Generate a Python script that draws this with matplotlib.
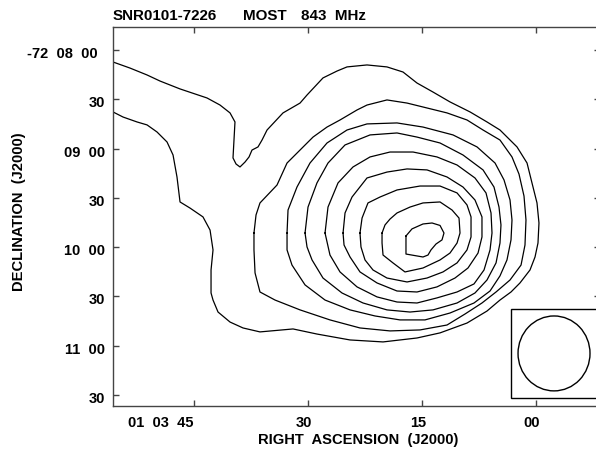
import matplotlib
matplotlib.use('Agg')
import matplotlib.pyplot as plt
from matplotlib.patches import Ellipse, Rectangle
import matplotlib.transforms as mtransforms

plt.rcParams['font.family'] = ['Liberation Sans', 'DejaVu Sans']
plt.rcParams['font.weight'] = 'bold'

# ---- data: contour paths, RA in seconds of 01h03m, Dec in arcsec south of -72 00 00
c1_ra = [55.66, 53.42, 51.18, 49.47, 46.84, 43.29, 41.58, 40.26, 39.61, 39.74, 39.87, 39.47, 38.95, 38.29,
         37.76, 37.37, 36.58, 36.05, 35.39, 33.29, 31.05, 30.13, 28.03, 26.18, 24.87, 22.24, 19.61, 17.50,
         15.66, 13.55, 11.32, 8.68, 6.45, 4.74, 2.50, 1.18, 0.53, -0.13, -0.39, -0.26, 0.13, 0.79, 2.11,
         3.29, 4.74, 6.45, 9.08, 12.63, 15.66, 20.13, 24.47, 28.82, 31.97, 36.32, 38.55, 40.26, 41.84,
         42.50, 42.76, 42.76, 42.50, 42.89, 43.82, 45.53, 46.84, 47.24, 47.76, 48.55, 49.87, 51.18, 52.50,
         54.34, 55.66]
c1_dec = [487.3, 491.0, 495.2, 498.9, 503.7, 509.2, 513.5, 518.3, 523.8, 534.8, 545.7, 549.4, 551.2, 548.2,
          545.1, 540.9, 539.0, 534.8, 528.7, 518.3, 512.3, 507.4, 497.0, 492.8, 490.3, 489.1, 490.3, 493.4,
          500.1, 505.6, 511.6, 517.7, 523.8, 528.7, 539.0, 548.8, 560.9, 573.1, 585.3, 597.5, 606.0, 613.9,
          621.8, 627.3, 632.2, 638.9, 646.2, 652.2, 655.3, 657.7, 656.5, 652.9, 649.8, 651.6, 649.2, 645.6,
          639.5, 632.2, 627.9, 613.9, 601.7, 589.6, 581.6, 576.2, 572.5, 557.3, 543.9, 536.0, 529.9, 525.6,
          523.8, 520.8, 517.7]

c2_ra = [37.11, 36.84, 36.32, 34.08, 32.76, 31.05, 29.34, 27.50, 25.79, 23.55, 22.24, 19.61, 16.97, 14.34,
         11.71, 9.08, 6.97, 4.74, 3.16, 2.24, 1.58, 1.32, 1.45, 1.97, 3.42, 5.26, 7.11, 9.34, 11.71, 15.26,
         19.21, 23.16, 27.11, 31.05, 34.34, 36.32, 36.97, 37.11]
c2_dec = [591.4, 580.4, 573.1, 562.2, 548.8, 540.9, 533.0, 526.9, 522.6, 516.5, 513.5, 510.4, 512.3, 515.3,
          518.3, 522.6, 528.7, 534.8, 545.1, 555.5, 568.9, 583.5, 598.7, 610.9, 620.0, 627.3, 634.0, 640.7,
          647.4, 650.4, 651.0, 649.2, 644.3, 638.2, 632.2, 627.3, 615.7, 601.7]

c3_ra = [32.76, 32.63, 31.45, 29.74, 27.50, 24.87, 22.24, 18.29, 14.87, 10.92, 7.76, 5.39, 4.21, 3.42, 3.16,
         3.29, 3.82, 4.74, 6.05, 8.16, 11.32, 14.61, 17.89, 21.18, 24.47, 27.76, 30.39, 32.11, 32.76]
c3_dec = [591.4, 577.4, 563.4, 548.8, 536.6, 528.7, 525.0, 524.4, 526.9, 531.7, 539.0, 548.8, 559.1, 571.3,
          583.5, 595.6, 607.8, 617.5, 626.7, 634.0, 640.1, 644.3, 644.3, 641.9, 638.2, 632.2, 623.0, 610.9,
          601.7]

c4_ra = [30.39, 30.00, 28.82, 27.37, 25.13, 21.84, 18.29, 15.66, 12.63, 9.61, 6.97, 5.53, 4.87, 4.61, 4.74,
         5.26, 6.45, 8.03, 10.39, 13.55, 16.58, 19.61, 22.76, 25.53, 28.03, 29.47, 30.13]
c4_dec = [591.4, 575.6, 560.9, 548.8, 537.8, 531.7, 530.5, 533.0, 536.6, 543.9, 553.0, 563.4, 575.6, 586.5,
          597.5, 609.6, 620.0, 627.9, 634.0, 638.2, 639.5, 638.2, 634.0, 627.9, 618.8, 607.8, 599.9]

c5_ra = [27.76, 27.37, 26.05, 24.08, 21.84, 19.21, 16.18, 13.03, 10.39, 8.03, 6.58, 5.92, 5.79, 6.05, 6.84,
         8.16, 10.39, 13.03, 15.66, 18.29, 20.92, 23.55, 25.79, 27.11]
c5_dec = [591.4, 575.6, 560.9, 551.2, 545.1, 542.1, 542.1, 545.1, 550.0, 557.9, 567.0, 579.2, 591.4, 601.7,
          613.9, 622.4, 627.3, 630.9, 634.0, 633.4, 630.3, 624.2, 615.1, 604.8]

c6_ra = [25.39, 25.13, 24.21, 22.24, 19.61, 16.97, 14.34, 11.71, 9.61, 8.03, 7.11, 7.11, 7.63, 8.95, 10.66,
         13.03, 15.66, 18.29, 20.92, 23.16, 24.47, 25.26]
c6_dec = [591.4, 579.2, 569.5, 557.9, 554.3, 552.4, 553.0, 557.3, 563.4, 571.3, 581.6, 593.8, 603.6, 612.7,
          618.8, 624.2, 627.3, 626.7, 621.8, 615.1, 606.0, 598.7]

c7_ra = [23.16, 22.89, 22.11, 20.53, 18.29, 15.26, 12.63, 10.39, 9.08, 8.55, 8.55, 9.08, 10.39, 12.24, 14.34,
         16.97, 19.61, 21.45, 22.50, 23.03]
c7_dec = [591.4, 582.3, 573.1, 569.5, 565.2, 562.8, 562.8, 567.0, 574.3, 581.6, 593.8, 601.7, 609.6, 615.1,
          618.8, 621.2, 618.8, 613.9, 607.8, 599.9]

c8_ra = [20.26, 19.87, 19.21, 18.29, 16.58, 14.87, 12.63, 11.05, 10.13, 10.00, 10.39, 11.32, 12.63, 14.87,
         17.24, 18.82, 20.13, 20.26]
c8_dec = [591.4, 586.5, 582.9, 579.2, 575.6, 573.1, 572.5, 577.4, 582.3, 591.4, 597.5, 603.6, 607.8, 612.7,
          615.1, 609.6, 604.8, 597.5]

c9_ra = [17.11, 16.32, 14.87, 13.68, 12.63, 12.11, 12.37, 13.16, 13.82, 14.21, 14.87, 17.11]
c9_dec = [593.2, 588.9, 585.9, 585.3, 586.8, 591.4, 595.6, 598.1, 601.7, 604.8, 606.0, 604.2]

closed_contours = [(c2_ra, c2_dec), (c3_ra, c3_dec), (c4_ra, c4_dec), (c5_ra, c5_dec),
                   (c6_ra, c6_dec), (c7_ra, c7_dec), (c8_ra, c8_dec), (c9_ra, c9_dec)]

x_ticks = [45, 30, 15, 0]
x_tick_labels = ['01  03  45', '30', '15', '00']
y_ticks = [480, 510, 540, 570, 600, 630, 660, 690]
y_tick_labels = ['-72  08  00', '30', '09  00', '30', '10  00', '30', '11  00', '30']

beam_ra, beam_dec = -2.37, 664.7       # beam centre
beam_w_s, beam_h_as = 9.47, 45.6       # beam size (RA seconds, Dec arcsec)
beam_box = (3.29, 637.6, 691.8)        # box left RA, top dec, bottom dec

W, H = 596, 453
fig = plt.figure(figsize=(W / 100, H / 100), dpi=100)
ax = fig.add_axes([113 / W, 47 / H, 487 / W, 379 / H])

ax.plot(c1_ra, c1_dec, color='black', lw=0.9)
for ra, dec in closed_contours:
    ax.plot(list(ra) + [ra[0]], list(dec) + [dec[0]], color='black', lw=0.9)

# beam inset
ax.add_patch(Rectangle((-12, beam_box[1]), beam_box[0] + 12, beam_box[2] - beam_box[1],
                       facecolor='white', edgecolor='black', lw=1.0, zorder=3))
ax.add_patch(Ellipse((beam_ra, beam_dec), beam_w_s, beam_h_as, fill=False,
                     edgecolor='black', lw=1.0, zorder=4))

ax.set_xlim(55.66, -8.42)
ax.set_ylim(696.7, 466.0)

for s in ax.spines.values():
    s.set_color('#444444')
    s.set_linewidth(1.0)

ax.set_xticks(x_ticks)
ax.set_xticklabels(x_tick_labels)
ax.set_yticks(y_ticks)
ax.set_yticklabels(y_tick_labels)
ax.tick_params(axis='both', direction='in', length=4.3, width=1.0, color='#444444',
               top=True, right=True, labelsize=10.5)
ax.tick_params(axis='x', pad=7.5)
ax.tick_params(axis='y', pad=5.8)

for i, lab in enumerate(ax.get_xticklabels()):
    lab.set_fontweight('bold')
    if i == 0:
        lab.set_ha('right')
        off = mtransforms.ScaledTranslation(-1 / 100, 0, fig.dpi_scale_trans)
    else:
        off = mtransforms.ScaledTranslation(-4 / 100, 0, fig.dpi_scale_trans)
    lab.set_transform(lab.get_transform() + off)
for i, lab in enumerate(ax.get_yticklabels()):
    lab.set_fontweight('bold')
    dx = -7 if i == 0 else 0
    off = mtransforms.ScaledTranslation(dx / 100, -2.5 / 100, fig.dpi_scale_trans)
    lab.set_transform(lab.get_transform() + off)

# titles and axis labels
fig.text(113 / W, 1 - 19.5 / H, 'SNR0101-7226', fontsize=10.9, fontweight='bold', va='baseline')
fig.text(243 / W, 1 - 19.5 / H, 'MOST', fontsize=10.9, fontweight='bold', va='baseline')
fig.text(301 / W, 1 - 19.5 / H, '843  MHz', fontsize=10.9, fontweight='bold', va='baseline')
fig.text(358 / W, 1 - 440 / H, 'RIGHT  ASCENSION  (J2000)', fontsize=10.6, fontweight='bold',
         ha='center', va='center')
fig.text(19 / W, 1 - 212 / H, 'DECLINATION  (J2000)', fontsize=10.6, fontweight='bold',
         ha='center', va='center', rotation=90)

fig.savefig('out.png', dpi=100)
